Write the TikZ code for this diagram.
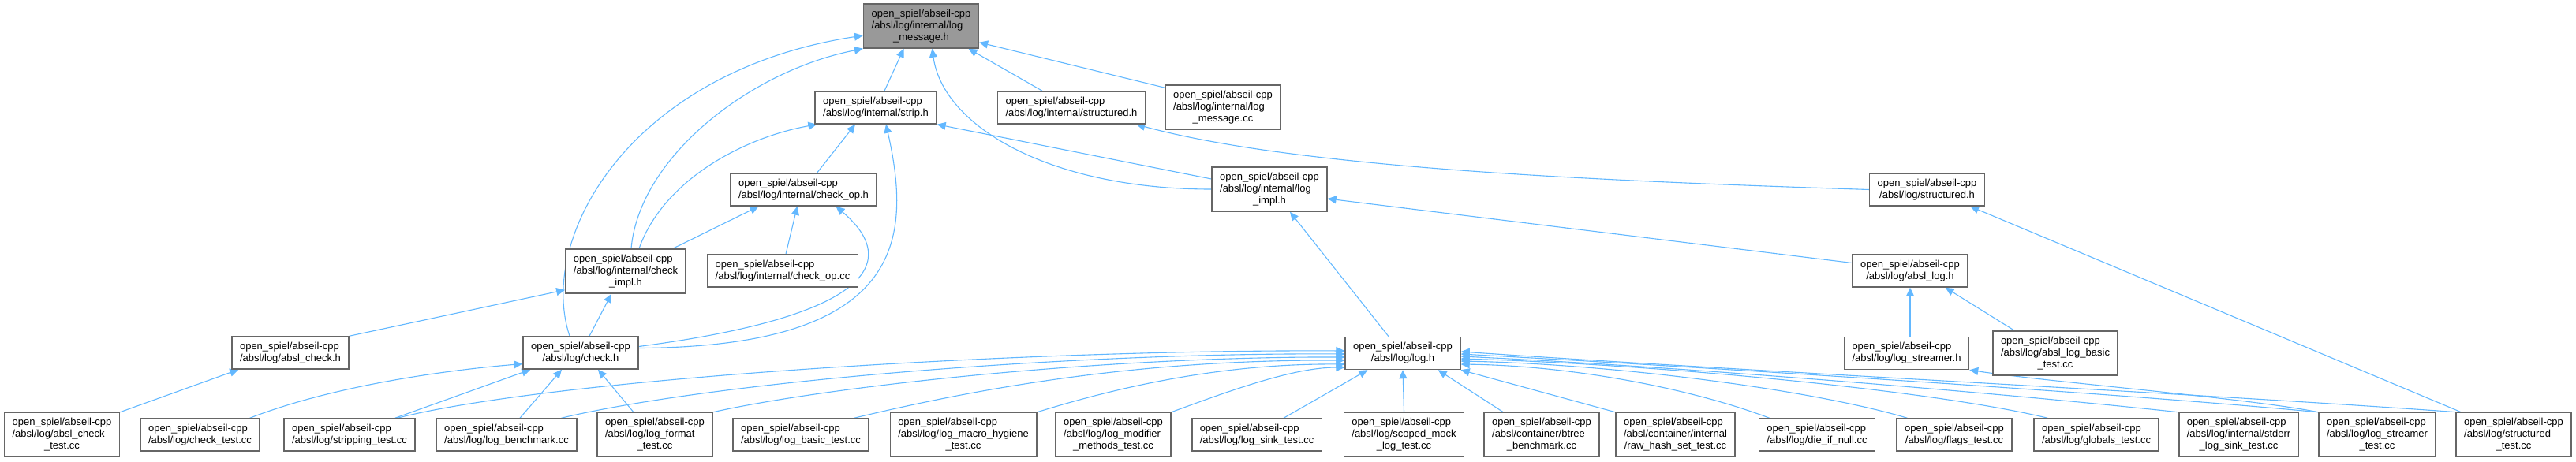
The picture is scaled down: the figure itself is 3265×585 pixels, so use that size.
\documentclass[tikz,border=0pt]{standalone}
\usepackage{fontspec}
\setmainfont{Liberation Sans}
\usepackage{tikz}
\usetikzlibrary{
    arrows.meta,
    positioning,
    calc,
    backgrounds
}
\usepackage{xcolor}
\definecolor{edgeblue}{HTML}{63B8FF}
\definecolor{boxline}{HTML}{666666}
\definecolor{rootfill}{HTML}{999999}
\newcommand{\twoln}[2]{\begin{tabular}{@{}l@{}}#1\\\multicolumn{1}{@{}c@{}}{#2}\end{tabular}}
\newcommand{\threeln}[3]{\begin{tabular}{@{}l@{}}#1\\#2\\\multicolumn{1}{@{}c@{}}{#3}\end{tabular}}
\tikzstyle{filebox} = [
    rectangle,
    draw=boxline,
    line width=0.75pt,
    fill=white,
    inner xsep=5pt,
    inner ysep=1pt,
    minimum height=20.5pt,
    font=\fontsize{6.5}{7.5}\selectfont
]
\tikzstyle{tallbox} = [
    filebox,
    minimum height=28pt
]
\tikzstyle{rootbox} = [
    tallbox,
    fill=rootfill
]
\tikzstyle{incl} = [
    -{Triangle[length=5.5pt,width=5pt]},
    line width=0.55pt,
    draw=edgeblue
]

\begin{document}
\begin{tikzpicture}[x=0.5pt, y=-0.5pt]
    \useasboundingbox (0,0) rectangle (3265,585);

    % Header under test
    \node[rootbox] (msg) at (1167.5,33) {\threeln{open\_spiel/abseil-cpp}{/absl/log/internal/log}{\_message.h}};

    % Headers including it
    \node[filebox] (strip) at (1110,136.5) {\twoln{open\_spiel/abseil-cpp}{/absl/log/internal/strip.h}};
    \node[filebox] (istruct) at (1358,136.5) {\twoln{open\_spiel/abseil-cpp}{/absl/log/internal/structured.h}};
    \node[tallbox] (lmcc) at (1550,136) {\threeln{open\_spiel/abseil-cpp}{/absl/log/internal/log}{\_message.cc}};
    \node[filebox] (checkop) at (1018.5,240.5) {\twoln{open\_spiel/abseil-cpp}{/absl/log/internal/check\_op.h}};
    \node[tallbox] (impl) at (1609,240) {\threeln{open\_spiel/abseil-cpp}{/absl/log/internal/log}{\_impl.h}};
    \node[filebox] (struct) at (2442.5,240.5) {\twoln{open\_spiel/abseil-cpp}{/absl/log/structured.h}};
    \node[tallbox] (checkimpl) at (793,344) {\threeln{open\_spiel/abseil-cpp}{/absl/log/internal/check}{\_impl.h}};
    \node[filebox] (checkopcc) at (992,343.5) {\twoln{open\_spiel/abseil-cpp}{/absl/log/internal/check\_op.cc}};
    \node[filebox] (abslog) at (2421,343.5) {\twoln{open\_spiel/abseil-cpp}{/absl/log/absl\_log.h}};
    \node[filebox] (abslcheck) at (368,447.5) {\twoln{open\_spiel/abseil-cpp}{/absl/log/absl\_check.h}};
    \node[filebox] (check) at (736,447.5) {\twoln{open\_spiel/abseil-cpp}{/absl/log/check.h}};
    \node[filebox] (log) at (1778,448) {\twoln{open\_spiel/abseil-cpp}{/absl/log/log.h}};
    \node[filebox] (streamer) at (2416.5,448) {\twoln{open\_spiel/abseil-cpp}{/absl/log/log\_streamer.h}};
    \node[tallbox] (abslbasic) at (2605,448) {\threeln{open\_spiel/abseil-cpp}{/absl/log/absl\_log\_basic}{\_test.cc}};

    % Sources and tests
    \node[tallbox] (abslchecktest) at (78.5,551.5) {\threeln{open\_spiel/abseil-cpp}{/absl/log/absl\_check}{\_test.cc}};
    \node[filebox] (checktest) at (253.5,551.5) {\twoln{open\_spiel/abseil-cpp}{/absl/log/check\_test.cc}};
    \node[filebox] (stripping) at (443,551.5) {\twoln{open\_spiel/abseil-cpp}{/absl/log/stripping\_test.cc}};
    \node[filebox] (bench) at (642,551.5) {\twoln{open\_spiel/abseil-cpp}{/absl/log/log\_benchmark.cc}};
    \node[tallbox] (format) at (830,551.5) {\threeln{open\_spiel/abseil-cpp}{/absl/log/log\_format}{\_test.cc}};
    \node[filebox] (basic) at (1015,551.5) {\twoln{open\_spiel/abseil-cpp}{/absl/log/log\_basic\_test.cc}};
    \node[tallbox] (macro) at (1221,551.5) {\threeln{open\_spiel/abseil-cpp}{/absl/log/log\_macro\_hygiene}{\_test.cc}};
    \node[tallbox] (modifier) at (1411,551.5) {\threeln{open\_spiel/abseil-cpp}{/absl/log/log\_modifier}{\_methods\_test.cc}};
    \node[filebox] (sink) at (1593,551.5) {\twoln{open\_spiel/abseil-cpp}{/absl/log/log\_sink\_test.cc}};
    \node[tallbox] (scoped) at (1779.5,551.5) {\threeln{open\_spiel/abseil-cpp}{/absl/log/scoped\_mock}{\_log\_test.cc}};
    \node[tallbox] (btree) at (1954,551.5) {\threeln{open\_spiel/abseil-cpp}{/absl/container/btree}{\_benchmark.cc}};
    \node[tallbox] (rawhash) at (2123.5,551.5) {\threeln{open\_spiel/abseil-cpp}{/absl/container/internal}{/raw\_hash\_set\_test.cc}};
    \node[filebox] (die) at (2303,551.5) {\twoln{open\_spiel/abseil-cpp}{/absl/log/die\_if\_null.cc}};
    \node[filebox] (flags) at (2477,551.5) {\twoln{open\_spiel/abseil-cpp}{/absl/log/flags\_test.cc}};
    \node[filebox] (globals) at (2657,551.5) {\twoln{open\_spiel/abseil-cpp}{/absl/log/globals\_test.cc}};
    \node[tallbox] (stderr) at (2837.5,551.5) {\threeln{open\_spiel/abseil-cpp}{/absl/log/internal/stderr}{\_log\_sink\_test.cc}};
    \node[tallbox] (lstest) at (3013,551.5) {\threeln{open\_spiel/abseil-cpp}{/absl/log/log\_streamer}{\_test.cc}};
    \node[tallbox] (sttest) at (3186,551.5) {\threeln{open\_spiel/abseil-cpp}{/absl/log/structured}{\_test.cc}};

    \begin{scope}[on background layer]
    % Into log_message.h
    \draw[incl] ([xshift=5.5pt]strip.north) -- ([xshift=-11pt]msg.south);
    \draw[incl] ([xshift=-18.5pt]istruct.north) -- ([xshift=30pt]msg.south);
    \draw[incl] ([yshift=-2pt]lmcc.north west) -- ([yshift=4pt]msg.south east);
    \draw[incl] (impl.west) .. controls (1330,240) and (1195,160) .. ([xshift=7pt]msg.south);
    \draw[incl] ([xshift=3.5pt]checkimpl.north) .. controls (810,200) and (950,90) .. (msg.south west);
    \draw[incl] ([xshift=-7pt]check.north) .. controls (680,300) and (800,90) .. ([yshift=-6pt]msg.west);

    % Into strip.h and structured.h
    \draw[incl] ([xshift=8.5pt]checkimpl.north) .. controls (840,230) and (940,175) .. ([xshift=1.5pt]strip.south west);
    \draw[incl] ([xshift=8.5pt]checkop.north) -- ([xshift=-13pt]strip.south);
    \draw[incl] ([yshift=3pt]check.east) .. controls (1150,440) and (1155,300) .. ([xshift=6.5pt]strip.south);
    \draw[incl] ([yshift=6.5pt]impl.west) -- (strip.south east);
    \draw[incl] (struct.west) .. controls (2050,230) and (1650,215) .. ([xshift=-6pt]istruct.south east);

    % Middle layers
    \draw[incl] ([xshift=-8.5pt]checkimpl.north east) -- ([xshift=-28.5pt]checkop.south);
    \draw[incl] ([xshift=2pt]checkopcc.north) -- ([xshift=-4pt]checkop.south);
    \draw[incl] ([yshift=4pt]check.east) .. controls (1110,400) and (1140,330) .. ([xshift=20.5pt]checkop.south);
    \draw[incl] (abslcheck.north east) -- ([yshift=2.5pt]checkimpl.south west);
    \draw[incl] ([xshift=5.5pt]check.north) -- ([xshift=-9pt]checkimpl.south);
    \draw[incl] ([xshift=-9pt]log.north) -- ([xshift=13pt]impl.south);
    \draw[incl] ([yshift=5pt]abslog.west) -- ([yshift=-6pt]impl.east);
    \draw[incl] ([xshift=3.5pt]sttest.north west) -- ([xshift=-9.5pt]struct.south east);
    \draw[incl] ([xshift=2.25pt]streamer.north) -- (abslog.south);
    \draw[incl] ([xshift=14pt]abslbasic.north west) -- ([xshift=-14.5pt]abslog.south east);
    \draw[incl] (lstest.north west) .. controls (2850,505) and (2600,485) .. (streamer.south east);

    % Into absl_check.h and check.h
    \draw[incl] (abslchecktest.north east) -- ([xshift=4.5pt]abslcheck.south west);
    \draw[incl] ([xshift=-6.5pt]checktest.north east) .. controls (420,490) and (560,470) .. ([yshift=-7pt]check.west);
    \draw[incl] ([xshift=-13pt]stripping.north east) -- ([xshift=5pt]check.south west);
    \draw[incl] ([xshift=8.5pt]bench.north) -- ([xshift=-12pt]check.south);
    \draw[incl] ([xshift=-13.5pt]format.north) -- ([xshift=11pt]check.south);

    % Into log.h
    \draw[incl] ([xshift=-11.5pt]stripping.north east) .. controls (700,480) and (1300,443) .. ([yshift=1.5pt]log.west);
    \draw[incl] ([xshift=-10pt]bench.north east) .. controls (900,485) and (1350,447) .. ([yshift=-0.5pt]log.west);
    \draw[incl] (format.north east) .. controls (1050,490) and (1400,452) .. ([yshift=-2.5pt]log.west);
    \draw[incl] ([xshift=-9.5pt]basic.north east) .. controls (1250,490) and (1450,456) .. ([yshift=-4.5pt]log.west);
    \draw[incl] (macro.north east) .. controls (1420,490) and (1550,461) .. ([yshift=-7pt]log.west);
    \draw[incl] (modifier.north east) .. controls (1560,495) and (1640,466) .. ([yshift=-9pt]log.west);
    \draw[incl] ([xshift=17pt]sink.north) -- ([xshift=14.5pt]log.south west);
    \draw[incl] (scoped.north) -- (log.south);
    \draw[incl] ([xshift=12.5pt]btree.north west) -- ([xshift=-14.5pt]log.south east);
    \draw[incl] (rawhash.north west) -- (log.south east);
    \draw[incl] ([xshift=7pt]die.north west) .. controls (2150,495) and (2000,464) .. ([yshift=-7pt]log.east);
    \draw[incl] ([xshift=7pt]flags.north west) .. controls (2300,495) and (2050,462) .. ([yshift=-5pt]log.east);
    \draw[incl] ([xshift=9pt]globals.north west) .. controls (2450,495) and (2100,462) .. ([yshift=-3.5pt]log.east);
    \draw[incl] (stderr.north west) .. controls (2550,500) and (2150,466) .. ([yshift=-2pt]log.east);
    \draw[incl] (lstest.north west) .. controls (2700,500) and (2200,468) .. ([yshift=-0.5pt]log.east);
    \draw[incl] ([xshift=1pt]sttest.north west) .. controls (2800,500) and (2200,470) .. ([yshift=1pt]log.east);
    \end{scope}
\end{tikzpicture}
\end{document}
